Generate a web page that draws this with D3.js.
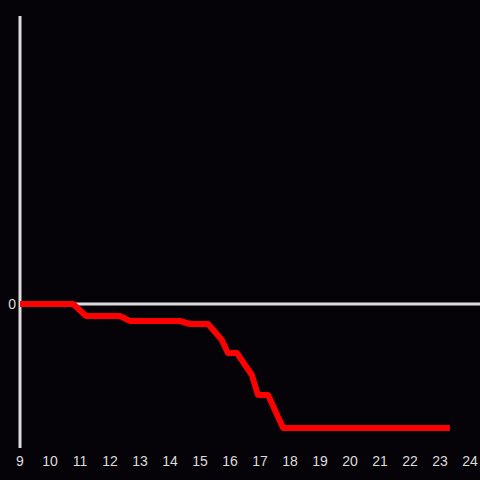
<!DOCTYPE html>
<html>
<head>
<meta charset="utf-8">
<script src="https://cdn.jsdelivr.net/npm/d3@7"></script>
<style>
  html, body { margin: 0; padding: 0; background: #050307; }
  svg { display: block; }
</style>
</head>
<body>
<div id="chart"></div>
<script>
// hour of day and value
const hours = [9, 10.77, 11.2, 12.33, 12.67, 14.33, 14.67, 15.27, 15.73, 15.93, 16.23, 16.73, 16.93, 17.27, 17.77, 23.33];
const values = [0, 0, -12, -12, -17, -17, -20, -20, -36, -49, -49, -71, -91, -91, -124, -124];
const xTicks = [9, 10, 11, 12, 13, 14, 15, 16, 17, 18, 19, 20, 21, 22, 23, 24];
const yTicks = [0];

const width = 480,
    height = 480;

const svg = d3
    .select("#chart")
    .append("svg")
    .attr("width", width)
    .attr("height", height);

svg.append("rect")
    .attr("width", width)
    .attr("height", height)
    .attr("fill", "#050307");

const x = d3.scaleLinear().domain([9, 24]).range([20, 470]);
const y = d3.scaleLinear().domain([-144, 288]).range([448, 16]);

const axisColor = "#dcdcdc";

// zero line
svg.append("line")
    .attr("x1", x(9))
    .attr("x2", width)
    .attr("y1", y(0))
    .attr("y2", y(0))
    .attr("stroke", axisColor)
    .attr("stroke-width", 3);

// y axis line
svg.append("line")
    .attr("x1", x(9))
    .attr("x2", x(9))
    .attr("y1", y.range()[1])
    .attr("y2", y.range()[0])
    .attr("stroke", axisColor)
    .attr("stroke-width", 3);

// x tick labels
svg.append("g")
    .selectAll("text")
    .data(xTicks)
    .enter()
    .append("text")
    .attr("x", (d) => x(d))
    .attr("y", 466)
    .attr("text-anchor", "middle")
    .attr("fill", axisColor)
    .attr("font-family", "Liberation Sans, Arial, sans-serif")
    .attr("font-size", 14)
    .text((d) => d);

// y tick labels
svg.append("g")
    .selectAll("text")
    .data(yTicks)
    .enter()
    .append("text")
    .attr("x", 16)
    .attr("y", (d) => y(d))
    .attr("dy", "0.35em")
    .attr("text-anchor", "end")
    .attr("fill", axisColor)
    .attr("font-family", "Liberation Sans, Arial, sans-serif")
    .attr("font-size", 14)
    .text((d) => d);

// red line
const data = hours.map((h, i) => ({ h: h, v: values[i] }));
const line = d3
    .line()
    .x((d) => x(d.h))
    .y((d) => y(d.v));

svg.append("path")
    .datum(data)
    .attr("d", line)
    .attr("fill", "none")
    .attr("stroke", "#ff0000")
    .attr("stroke-width", 6)
    .attr("stroke-linejoin", "round");
</script>
</body>
</html>
